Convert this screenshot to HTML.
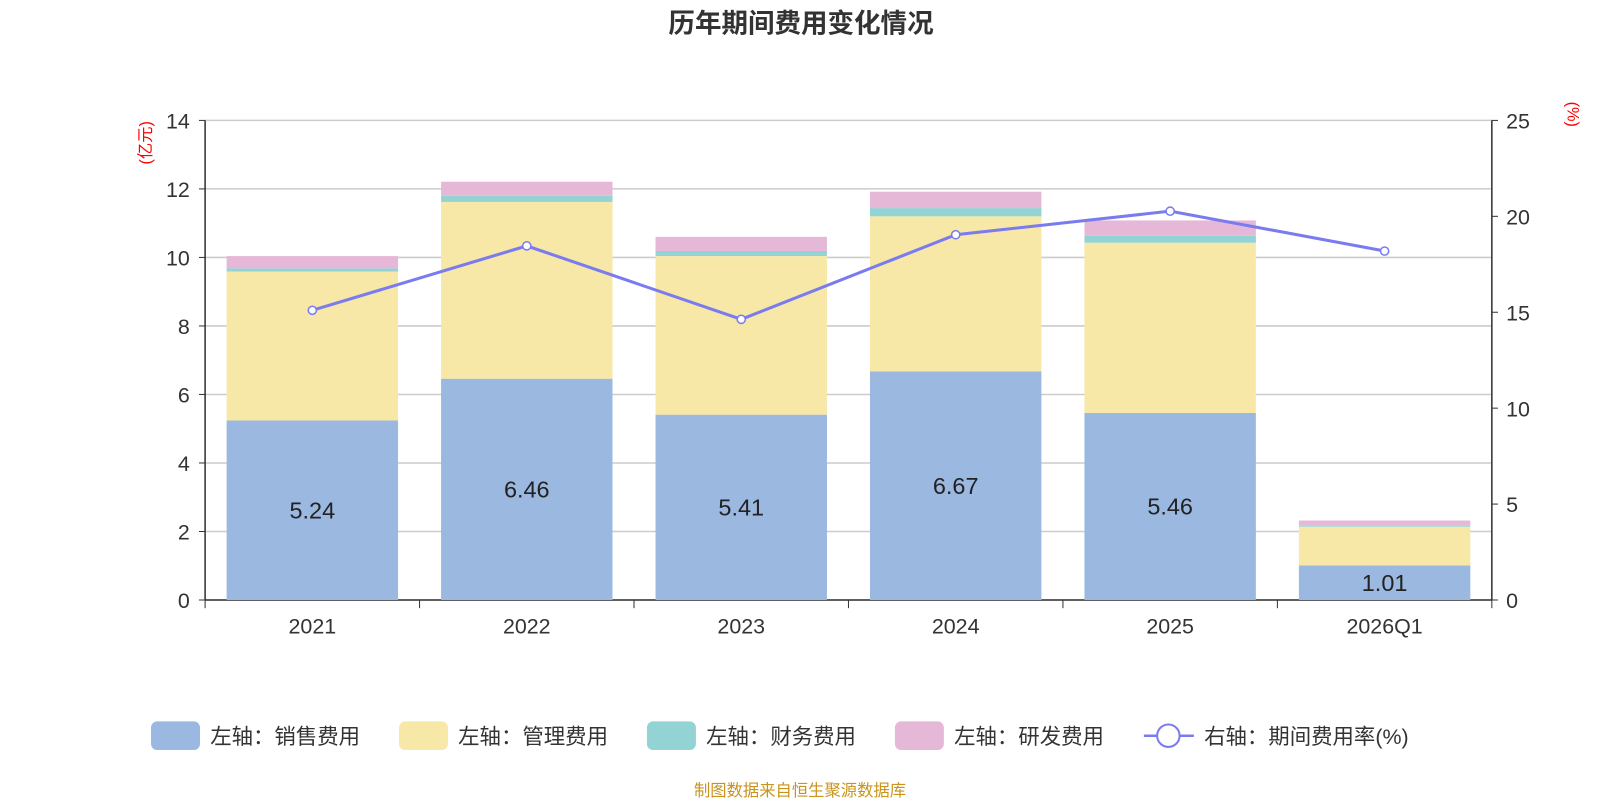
<!DOCTYPE html>
<html><head><meta charset="utf-8"><style>
body{margin:0;background:#fff;font-family:"Liberation Sans","Noto Sans CJK SC",sans-serif}
</style></head><body>
<svg id="c" width="1600" height="800" viewBox="0 0 1568 784" xmlns="http://www.w3.org/2000/svg" font-family="Liberation Sans, Noto Sans CJK SC, sans-serif"></svg>
<script>
const categories=["2021","2022","2023","2024","2025","2026Q1"];
const sales=[5.24,6.46,5.41,6.67,5.46,1.01];
const admin=[4.35,5.16,4.63,4.53,4.97,1.13];
const finance=[0.09,0.18,0.15,0.24,0.20,0.03];
const rnd=[0.36,0.41,0.41,0.48,0.45,0.15];
const rate=[15.1,18.46,14.63,19.04,20.27,18.19];
const leftTicks=[0,2,4,6,8,10,12,14];
const rightTicks=[0,5,10,15,20,25];
const svg=document.getElementById('c');const NS="http://www.w3.org/2000/svg";
function el(t,a,p){const e=document.createElementNS(NS,t);for(const k in a)e.setAttribute(k,a[k]);(p||svg).appendChild(e);return e;}
const X0=201,X1=1462,Y0=588,Y1=118;
const yL=v=>Y0-(v/14)*(Y0-Y1);
const yR=v=>Y0-(v/25)*(Y0-Y1);
const bw=(X1-X0)/categories.length;
const xC=i=>X0+bw*(i+0.5);
let t=el('text',{x:785,y:32,'text-anchor':'middle','font-size':26,'font-weight':'bold',fill:'#333'});t.textContent='历年期间费用变化情况';


leftTicks.forEach(v=>{const g=el('line',{x1:X0,x2:X1,y1:yL(v),y2:yL(v),stroke:'#ccc','stroke-width':1.5});


const tx=el('text',{x:186,y:yL(v)+8,'text-anchor':'end','font-size':21,fill:'#333'});tx.textContent=v;


el('line',{x1:X0-6,x2:X0,y1:yL(v),y2:yL(v),stroke:'#333'});});
rightTicks.forEach(v=>{const tx=el('text',{x:1476,y:yR(v)+8,'font-size':21,fill:'#333'});tx.textContent=v;


el('line',{x1:X1,x2:X1+6,y1:yR(v),y2:yR(v),stroke:'#333'});});
el('line',{x1:X0,x2:X0,y1:Y1,y2:Y0,stroke:'#333','stroke-width':1.5});
el('line',{x1:X1,x2:X1,y1:Y1,y2:Y0,stroke:'#333','stroke-width':1.5});
el('line',{x1:X0,x2:X1,y1:Y0,y2:Y0,stroke:'#333','stroke-width':1.5});
let u=el('text',{transform:'translate(148,140) rotate(-90)','text-anchor':'middle','font-size':16,fill:'red'});u.textContent='(亿元)';


u=el('text',{transform:'translate(1536,112) rotate(90)','text-anchor':'middle','font-size':16,fill:'red'});u.textContent='(%)';


for(let i=0;i<=categories.length;i++)el('line',{x1:X0+bw*i,x2:X0+bw*i,y1:Y0,y2:Y0+8,stroke:'#333'});
const series=[[sales,'#9bb8e0','sales'],[admin,'#f7e8a8','admin'],[finance,'#93d3d3','finance'],[rnd,'#e6b8d8','rnd']];
categories.forEach((c,i)=>{let base=0;
series.forEach(([arr,col,n])=>{const r=el('rect',{x:xC(i)-84,width:168,y:yL(base+arr[i]),height:yL(base)-yL(base+arr[i]),fill:col});


base+=arr[i];});
const lb=el('text',{x:xC(i),y:(yL(sales[i])+Y0)/2+8,'text-anchor':'middle','font-size':23,fill:'#222'});lb.textContent=sales[i].toFixed(2);


const xl=el('text',{x:xC(i),y:621,'text-anchor':'middle','font-size':21,fill:'#333'});xl.textContent=c;

});
const pl=el('polyline',{points:rate.map((v,i)=>xC(i)+','+yR(v)).join(' '),fill:'none',stroke:'#7b7bf0','stroke-width':3});


rate.forEach((v,i)=>{const p=el('circle',{cx:xC(i),cy:yR(v),r:4,fill:'#fff',stroke:'#7b7bf0','stroke-width':1.5});

});
const leg=[['左轴：销售费用','#9bb8e0',148],['左轴：管理费用','#f7e8a8',391],['左轴：财务费用','#93d3d3',634],['左轴：研发费用','#e6b8d8',877]];
leg.forEach(([s,col,x])=>{const g=el('g',{});
el('rect',{x:x,y:707,width:48,height:28,rx:6,fill:col},g);const tt=el('text',{x:x+58,y:729,'font-size':21,fill:'#333'},g);tt.textContent=s;});
const lg=el('g',{});
el('line',{x1:1121,x2:1170,y1:721,y2:721,stroke:'#7b7bf0','stroke-width':2.5},lg);
el('circle',{cx:1145,cy:721,r:11,fill:'#fff',stroke:'#7b7bf0','stroke-width':2},lg);
let lt=el('text',{x:1180,y:729,'font-size':21,fill:'#333'},lg);lt.textContent='右轴：期间费用率(%)';
const src=el('text',{x:784,y:780,'text-anchor':'middle','font-size':16,fill:'#c8941c'});src.textContent='制图数据来自恒生聚源数据库';


</script>
</body></html>
